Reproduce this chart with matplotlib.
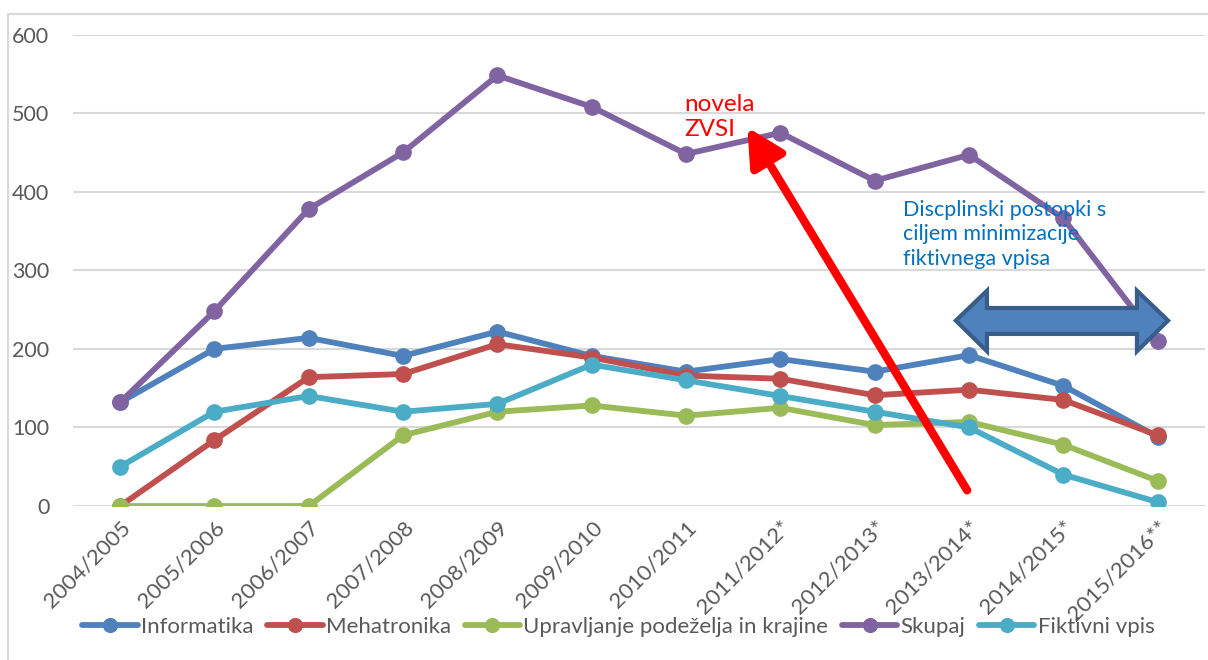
import matplotlib
matplotlib.use("Agg")
import matplotlib.pyplot as plt
from matplotlib.patches import Polygon, Rectangle

plt.rcParams["font.family"] = ["Lato", "DejaVu Sans"]

YEARS = ["2004/2005", "2005/2006", "2006/2007", "2007/2008", "2008/2009", "2009/2010",
         "2010/2011", "2011/2012*", "2012/2013*", "2013/2014*", "2014/2015*", "2015/2016**"]

INFORMATIKA = [132, 200, 214, 191, 222, 191, 171, 187, 171, 192, 153, 88]
MEHATRONIKA = [0, 84, 164, 168, 206, 189, 166, 162, 141, 148, 135, 90]
UPRAVLJANJE = [0, 0, 0, 90, 120, 128, 115, 125, 103, 107, 78, 32]
SKUPAJ = [132, 248, 378, 450, 548, 508, 448, 475, 414, 447, 366, 210]
FIKTIVNI = [50, 120, 140, 120, 130, 180, 160, 140, 120, 100, 40, 5]

SERIES = [
    ("Informatika", INFORMATIKA, "#4F81BD"),
    ("Mehatronika", MEHATRONIKA, "#C0504D"),
    ("Upravljanje podeželja in krajine", UPRAVLJANJE, "#9BBB59"),
    ("Skupaj", SKUPAJ, "#8064A2"),
    ("Fiktivni vpis", FIKTIVNI, "#4BACC6"),
]

TEXT_GREY = "#595959"

fig = plt.figure(figsize=(12.08, 6.6), dpi=100)
ax = fig.add_axes([0.0604, 0.2333, 0.937, 0.7143])

# outer chart frame (runs off the right and bottom edges)
fig.patches.append(Rectangle((8 / 1208, -0.1), 1.1, 1 - 14 / 660 + 0.1,
                             transform=fig.transFigure, fill=False,
                             edgecolor="#D9D9D9", lw=1.5))

x = list(range(len(YEARS)))
for name, values, color in SERIES:
    ax.plot(x, values, color=color, lw=4.2, marker="o", markersize=11,
            label=name, solid_capstyle="round", zorder=3)

ax.set_xlim(-0.5, 11.5)
ax.set_ylim(0, 600)
ax.set_yticks(range(0, 601, 100))
ax.grid(axis="y", color="#D9D9D9", lw=1.5, zorder=0)
ax.set_axisbelow(True)
for spine in ax.spines.values():
    spine.set_visible(False)
ax.tick_params(length=0, colors=TEXT_GREY)
ax.tick_params(axis="y", pad=17, labelsize=15.5)
ax.tick_params(axis="x", pad=8, labelsize=16)
ax.set_xticks(x)
ax.set_xticklabels(YEARS, rotation=45, ha="right", rotation_mode="anchor")

# red arrow and "novela ZVSI"
ax.annotate("", xy=(6.65, 482), xytext=(8.98, 20),
            arrowprops=dict(arrowstyle="-|>,head_length=1.25,head_width=0.65",
                            color="red", lw=6, mutation_scale=18,
                            shrinkA=0, shrinkB=0), zorder=5)
ax.text(5.98, 524, "novela\nZVSI", color="red", fontsize=17.5,
        linespacing=1.2, va="top", ha="left", zorder=6)

# blue double arrow and its note
x0, x1, hl = 8.86, 11.11, 0.33
yc, yh_top, yh_bot, yb_top, yb_bot = 236, 274, 197, 252, 219
verts = [(x0, yc), (x0 + hl, yh_top), (x0 + hl, yb_top), (x1 - hl, yb_top),
         (x1 - hl, yh_top), (x1, yc), (x1 - hl, yh_bot), (x1 - hl, yb_bot),
         (x0 + hl, yb_bot), (x0 + hl, yh_bot)]
ax.add_patch(Polygon(verts, closed=True, facecolor="#4F81BD", edgecolor="#385D8A",
                     lw=3, zorder=5, joinstyle="miter"))
ax.text(8.30, 390, "Discplinski postopki s\nciljem minimizacije\nfiktivnega vpisa",
        color="#0070C0", fontsize=15.5, linespacing=1.3, va="top", ha="left", zorder=6)

fig.legend(loc="center", bbox_to_anchor=(0.512, 0.05), ncol=5, frameon=False,
           fontsize=16, labelcolor=TEXT_GREY, handlelength=2.5, handletextpad=0.15,
           columnspacing=0.6, markerscale=0.9)

fig.savefig("out.png", dpi=100)
